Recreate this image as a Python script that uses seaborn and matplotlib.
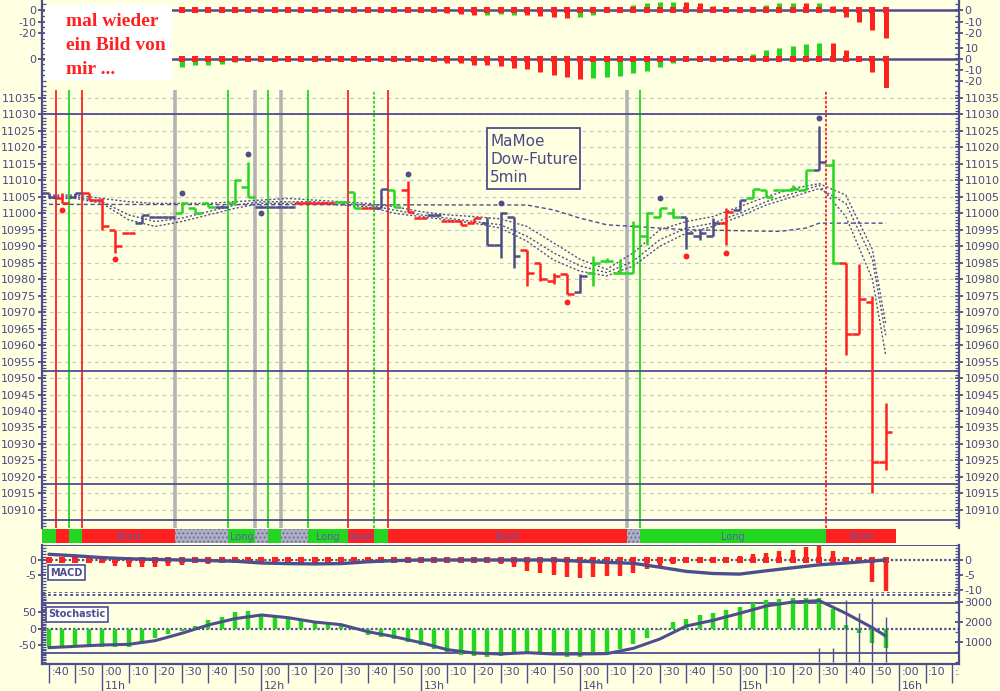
import numpy as np
import pandas as pd
import matplotlib
matplotlib.use("Agg")
import matplotlib.pyplot as plt
import seaborn as sns
from matplotlib.patches import Rectangle
from matplotlib.ticker import FixedLocator, MultipleLocator, StrMethodFormatter

# ======================
# DATA
# ======================

# 5 minute OHLC bars, first bar at 10:40
bar_first = "10:40"
bar_open = [11006, 11004.5, 11005, 11006, 11004, 10995, 10994, 10997, 10999, 10999,
            11000, 11001.5, 11003, 11002, 11003, 11008, 11002, 11002, 11002, 11003,
            11003, 11003, 11003.5, 11006.5, 11001.5, 11001.5, 11007, 11007, 10998.7, 10999.5,
            10997.6, 10997.5, 10997, 10997, 10990.5, 10999, 10989, 10985, 10979.5, 10981.5,
            10976, 10982, 10985.5, 10982, 10982, 10993, 10999, 11000, 10999, 10993,
            10993, 10997, 11001, 11004.5, 11007, 11007, 11007, 11007, 11013, 11014.5,
            10985, 10963.5, 10973, 10924.5]
bar_high = [11006, 11006, 11006, 11006, 11004.5, 10995, 10994, 10999.5, 10999, 10999,
            11003.5, 11001.5, 11003, 11002.5, 11010.5, 11015.5, 11002.5, 11002, 11002, 11003,
            11003, 11003, 11003.5, 11006.5, 11001.5, 11007.5, 11007, 11009.7, 10998.7, 10999.5,
            10997.6, 10997.5, 10998.5, 10999, 11000.5, 10999, 10989, 10985, 10982, 10981.5,
            10981.7, 10987, 10986.5, 10986, 10997.5, 11000.5, 11001.5, 11001.5, 10999, 10995,
            10998.5, 11001.5, 11004, 11007.5, 11007, 11007, 11008.5, 11013, 11026.5, 11016.5,
            10985, 10984.5, 10975, 10942.5]
bar_low = [11004.5, 11003, 11004.5, 11004, 10995, 10988, 10994, 10997, 10999, 10999,
           11000, 11000, 11002, 11001.5, 11003, 11005, 11001.5, 11002, 11002, 11003,
           11003, 11003, 11003.5, 11001.5, 11001.5, 11001.5, 11002, 11000.5, 10998.7, 10999.5,
           10997.6, 10996.5, 10997, 10990.5, 10986.4, 10983.3, 10978, 10979.5, 10978.5, 10975.5,
           10975.9, 10978, 10985.5, 10982, 10982, 10990.5, 10998.8, 10998.5, 10989.2, 10992,
           10993, 10990.5, 11001, 11004.5, 11005, 11007, 11007, 11007, 11013, 10984.5,
           10957, 10963.5, 10915, 10922]
bar_close = [11005, 11003, 11006, 11004, 10996, 10990, 10994, 10999.5, 10999, 10999,
             11003, 11000, 11002, 11002, 11010, 11005, 11002, 11002, 11002, 11003,
             11003, 11003, 11003.5, 11001.5, 11001.5, 11007.5, 11002, 11000.5, 10998.7, 10999.5,
             10997.6, 10996.5, 10998.5, 10990.5, 11000, 10987, 10982, 10980, 10981, 10975.5,
             10981, 10985, 10985.5, 10982, 10996, 11000, 11001.5, 10999, 10994, 10994,
             10997, 11000.5, 11004, 11007.5, 11005, 11007, 11007.5, 11013, 11015.5, 10985,
             10963.5, 10974, 10924.5, 10933.5]
bar_state = list("brbrrrrbbb" "gggbggbbbr" "rrggrbgrrb" "rrrbbbrrrr"
                 "bgggggggbb" "brbgggggbg" "rrrrx")

# pivot markers
pivot_low_t = ["10:45", "11:05", "13:55", "14:40", "14:55"]
pivot_low_v = [11001, 10986, 10973, 10987, 10988]
pivot_high_t = ["11:30", "11:55", "12:00", "12:55", "13:30", "14:30", "15:30"]
pivot_high_v = [11006, 11018, 11000, 11012, 11003, 11004.7, 11029]

# dotted averages, read every 10 minutes
ma_t = ["10:40", "10:50", "11:00", "11:10", "11:20", "11:30", "11:40", "11:50", "12:00",
        "12:10", "12:20", "12:30", "12:40", "12:50", "13:00", "13:10", "13:20", "13:30",
        "13:40", "13:50", "14:00", "14:10", "14:20", "14:30", "14:40", "14:50", "15:00",
        "15:10", "15:20", "15:30", "15:40", "15:50", "15:55"]
ma_upper = [11005.5, 11005.5, 11004.5, 11003.5, 11003, 11003, 11003, 11003.5, 11004,
            11004.5, 11004, 11003.5, 11003, 11002, 11000.5, 10999.5, 10999, 10998.3,
            10996, 10991, 10986, 10983, 10988, 10995, 10997.5, 10999, 11002,
            11005, 11007.5, 11009, 11005.5, 10989, 10966.5]
ma_mid = [11005, 11005, 11003.5, 10999.5, 10997.5, 10998.5, 11000.5, 11002.5, 11003.5,
          11003.5, 11003.5, 11003, 11002.5, 11001, 10999.5, 10998.5, 10997.5, 10996.5,
          10993, 10988, 10984, 10982, 10985.5, 10992, 10995.5, 10997, 11000,
          11003.5, 11006, 11008.5, 10999, 10980, 10957]
ma_lower = [11004.5, 11004.5, 11003, 10998, 10996, 10997.5, 10999.5, 11001.5, 11003,
            11003, 11003, 11002.5, 11002, 11000, 10999, 10998, 10997, 10995.5,
            10991.5, 10985.8, 10982.4, 10981, 10984, 10990, 10994, 10996, 10999,
            11002.5, 11005, 11007.5, 11003, 10986, 10963]
long_t = ["10:40", "13:40", "13:50", "14:00", "14:10", "14:20", "14:40", "15:15", "15:25", "15:30", "15:55"]
long_v = [11002.7, 11002.5, 11001, 10998.5, 10996.5, 10996, 10995, 10994.5, 10995.5, 10997, 10997]

levels = [11030, 10952, 10918, 10907]

# signal changes (long / short / neutral)
sig_change_t = ["10:37:30", "10:42:30", "10:47:30", "10:52:30", "11:27:30", "11:47:30", "11:57:30",
                "12:02:30", "12:07:30", "12:17:30", "12:32:30", "12:42:30", "12:47:30", "14:17:30",
                "14:22:30", "15:32:30"]
sig_state = ["L", "S", "L", "S", "N", "L", "N", "L", "N", "L", "S", "L", "S", "N", "L", "S"]
sig_label = ["", "", "", "Short", "", "Long", "", "", "", "Long", "Short", "", "Short", "", "Long", "Short"]
sig_end = "15:59"
sig_dotted = ["12:42:30", "15:32:30"]

# top histograms, 11:30 .. 15:55
hist_first = "11:30"
hist1 = [0.8, 1.5, 1.5, 1, 1.5, 2, 1.5, 1, 0.3, 0.3, -1, -1,
         0.3, 0.3, 0.3, 0.3, 0.3, 0.3, 0.3, -2, -3, -3.5, -4.3, -4.3,
         -3.5, -4, -4.3, -5, -5.8, -7, -5.8, -4.3, 0.3, 0.3, 4.3, 5.8,
         7, 7, 7, 5.8, 3.5, 1, 1, 2, 4, 6, 6, 6,
         6, 3.5, -5.8, -10, -17, -24.6]
hist1_col = list("gggrggrrrrrg" "rrrrrrrgrrrg" "ggrrrrggrrgg" "ggrrrrrgggg" "rgrrrrr")
hist2 = [-7, -5.5, -5.5, -4.5, -2.4, 0.3, 0.3, 1, 1, 0.3, 0.3, 0.3,
         0.3, 1, 1, 1, 1, 0.5, -0.5, -1, -3.3, -4, -5.5, -5.5,
         -6.4, -8, -9.4, -11.5, -14.5, -16.7, -18, -17.6, -16.7, -15.5, -13, -10.6,
         -7, -4, -1, 0.5, 0.5, 0.5, 0.5, 5, 8, 10, 11.5, 13.5,
         15, 15, 8, 1, -12, -27]
hist2_col = list("gggggrrggrrr" "rgrggrrrrrrr" "rrrrrrrggggg" "ggrrrrrgggg" "ggrrrrr")

# MACD histogram per bar and MACD line
macd_hist = [0.3, 0.3, 0.3, -0.4, -1.1, -1.9, -2.2, -2.2, -2.2, -1.9,
             -1.6, 0.3, -1.3, -0.8, 0.3, 0.3, 0.3, 0.3, 0.3, 0.3,
             0.3, 0.3, 0.3, 0.3, 0.3, 0.3, 0.3, -0.3, -0.3, -0.5,
             -0.7, -1, -1, -1, -1.2, -2.4, -3.5, -4.4, -4.9, -5.8,
             -6, -5.5, -5.2, -5.2, -4.4, -3, -2.2, -1.3, -1.1, -0.9,
             -0.8, 0.3, 1.5, 2, 2.5, 2.9, 3.3, 4.2, 4.8, 2.9,
             0.7, -1.1, -7.4, -10.4]
macd_line = [1.9, 1.4, 0.8, 0.4, 0.2, 0, -0.2, -0.4, -1.0,
             -1.2, -1.3, -1.2, -0.6, -0.2, 0, 0, 0, 0,
             0, 0, -0.4, -0.8, -1.1, -2.4, -3.8, -4.5, -4.7,
             -3.6, -2.6, -1.6, -1, -0.3, 0]

# Stochastic histogram per bar, its line, and volume
stoch_hist = [-54, -54, -54, -52, -54, -54, -56, -42, -28, -16,
              -6, 8, 26, 36, 50, 52, 42, 36, 30, 26,
              22, 16, 10, -4, -18, -25, -32, -40, -50, -60,
              -70, -80, -82, -86, -82, -74, -74, -74, -74, -84,
              -84, -74, -74, -62, -46, -28, -4, 20, 30, 40,
              46, 56, 66, 76, 86, 90, 92, 92, 92, 60,
              12, -14, -42, -58]
stoch_line = [-57, -53, -49, -47, -36, -14, 11, 30, 41,
              33, 20, 12, -9, -24, -42, -63, -73, -76,
              -72, -76, -76, -75, -59, -31, 8, 25, 46,
              68, 80, 84, 46, 3, -22]
vol_t = ["15:30", "15:35", "15:40", "15:45", "15:50", "15:55"]
vol_v = [700, 700, 3100, 2430, 3180, 2270]

# ======================
# STYLE
# ======================
BG = "#FFFFE1"
RED = "#FF2020"
GREEN = "#22D622"
NAVY = "#4E4E8C"
GRAY = "#B4B4B4"
TXT = "#4A4A88"
GRID = "#C8C8C8"
STATE_COL = {"b": NAVY, "r": RED, "g": GREEN, "x": "#A8A8A8"}
SIG_COL = {"L": GREEN, "S": RED, "N": "#B0B0C4"}

W, H = 1000, 691
X0, X1 = 42, 959
XLIM = (37.4, 382.6)   # minutes after 10:00 at the panel edges


def tmin(s):
    p = [float(v) for v in s.split(":")]
    m = (p[0] - 10) * 60 + p[1]
    if len(p) > 2:
        m += p[2] / 60
    return m


sns.set_theme(style="white")
plt.rcParams.update({"font.family": ["DejaVu Sans"], "axes.unicode_minus": False})

fig = plt.figure(figsize=(10, 6.91), dpi=100, facecolor=BG)


def panel(y0, y1):
    ax = fig.add_axes([X0 / W, 1 - y1 / H, (X1 - X0) / W, (y1 - y0) / H])
    ax.set_facecolor(BG)
    ax.set_xlim(*XLIM)
    for s in ax.spines.values():
        s.set_visible(False)
    ax.set_xticks(np.arange(40, 381, 10))
    ax.tick_params(axis="x", length=0, labelbottom=False)
    ax.grid(axis="x", color=GRID, ls=(0, (3, 3)), lw=0.9)
    ax.set_axisbelow(True)
    return ax


def yaxes(ax, lim, lticks, rticks, minor=None, rlim=None):
    ax.set_ylim(*lim)
    axr = ax.twinx()
    axr.set_xlim(*XLIM)
    axr.set_ylim(*(rlim or lim))
    ax.yaxis.set_major_locator(FixedLocator(lticks))
    axr.yaxis.set_major_locator(FixedLocator(rticks))
    if minor:
        ax.yaxis.set_minor_locator(MultipleLocator(minor))
        axr.yaxis.set_minor_locator(MultipleLocator(minor * (1 if rlim is None else 100)))
    for a in (ax, axr):
        for s in a.spines.values():
            s.set_visible(False)
        a.yaxis.set_major_formatter(StrMethodFormatter("{x:.0f}"))
        a.tick_params(axis="y", which="major", length=6, width=1.3, color=NAVY,
                      labelcolor=TXT, labelsize=8, pad=1, direction="inout")
        a.tick_params(axis="y", which="minor", length=3, width=0.9, color=NAVY, direction="in")
        a.grid(False)
    ax.spines["left"].set_visible(True)
    ax.spines["left"].set_color(NAVY)
    ax.spines["left"].set_linewidth(1.6)
    axr.spines["right"].set_visible(True)
    axr.spines["right"].set_color(NAVY)
    axr.spines["right"].set_linewidth(1.6)
    ax.yaxis.set_ticks_position("left")
    return axr


bar_t = tmin(bar_first) + 5 * np.arange(len(bar_open))
hist_t = tmin(hist_first) + 5 * np.arange(len(hist1))
ma_x = [tmin(s) for s in ma_t]

# ---------------- top histograms ----------------
for (y0, y1), vals, cols, lim, lt, rt in [
        ((0, 40), hist1, hist1_col, (-26, 8.7), [0, -10, -20], [0, -10, -20]),
        ((40, 88), hist2, hist2_col, (-26.4, 17.3), [0], [10, 0, -10, -20])]:
    ah = panel(y0, y1)
    yaxes(ah, lim, lt, rt, minor=5)
    ah.axhline(0, color=NAVY, lw=1.8, zorder=2)
    ah.vlines(hist_t, 0, vals, colors=[STATE_COL[c] for c in cols], lw=3.6, zorder=3)
    sns.scatterplot(x=hist_t, y=np.zeros(len(hist_t)), ax=ah, color=RED, s=16,
                    marker="s", linewidth=0, zorder=4, legend=False)

# ---------------- price panel ----------------
ax = panel(90, 528)
yaxes(ax, (10904.5, 11037.4), list(range(10910, 11036, 5)), list(range(10910, 11036, 5)), minor=1)
ax.grid(axis="y", color=GRID, ls=(0, (3, 3)), lw=0.9)
for lv in levels:
    ax.axhline(lv, color=NAVY, lw=1.3, zorder=2)

# signal change lines
for i, (s, st) in enumerate(zip(sig_change_t[1:], sig_state[1:])):
    t = tmin(s)
    if st == "N":
        ax.axvline(t, color=GRAY, lw=2.6, zorder=1)
    else:
        ax.axvline(t, color=SIG_COL[st], lw=1.3, zorder=1,
                   ls=(0, (1.5, 1)) if s in sig_dotted else "-")

# averages
for vals in (ma_upper, ma_mid, ma_lower):
    sns.lineplot(x=ma_x, y=vals, ax=ax, color=NAVY, lw=1.0, linestyle=(0, (1.5, 1.5)),
                 errorbar=None, zorder=3)
sns.lineplot(x=[tmin(s) for s in long_t], y=long_v, ax=ax, color=NAVY, lw=1.0,
             linestyle=(0, (3, 2)), errorbar=None, zorder=3)

# OHLC bars
cols = [STATE_COL[c] for c in bar_state]
ax.vlines(bar_t, bar_low, bar_high, colors=cols, lw=1.8, zorder=4)
ax.hlines(bar_open, bar_t - 2.5, bar_t, colors=cols, lw=1.8, zorder=4)
ax.hlines(bar_close, bar_t, bar_t + 2.5, colors=cols, lw=1.8, zorder=4)

sns.scatterplot(x=[tmin(s) for s in pivot_low_t], y=pivot_low_v, ax=ax, color=RED,
                s=18, linewidth=0, zorder=5, legend=False)
sns.scatterplot(x=[tmin(s) for s in pivot_high_t], y=pivot_high_v, ax=ax, color=NAVY,
                s=18, linewidth=0, zorder=5, legend=False)
ax.set_xlim(*XLIM)

# ---------------- signal bar ----------------
asg = panel(529, 543)
asg.grid(False)
asg.set_ylim(0, 1)
asg.set_yticks([])
bounds = [tmin(s) for s in sig_change_t] + [tmin(sig_end)]
for t0, t1, st, lab in zip(bounds[:-1], bounds[1:], sig_state, sig_label):
    if st == "N":
        asg.axvspan(t0, t1, facecolor=SIG_COL[st], edgecolor="#70709E", hatch="....", lw=0)
    else:
        asg.axvspan(t0, t1, color=SIG_COL[st], lw=0)
    if lab:
        asg.text((t0 + t1) / 2, 0.45, lab, ha="center", va="center", fontsize=7, color="#5A5AA6")
asg.set_xlim(*XLIM)

# ---------------- MACD ----------------
am = panel(545, 593)
yaxes(am, (-11, 5), [0, -5], [0, -5, -10], minor=1)
am.axhline(0, color=NAVY, lw=1.6, ls=(0, (1, 1)), zorder=2)
am.axhline(5, color=NAVY, lw=1.4)
am.axhline(-11, color=NAVY, lw=2, ls=(0, (1, 1)))
am.vlines(bar_t, 0, macd_hist, colors=RED, lw=3.2, zorder=3)
sns.scatterplot(x=bar_t, y=np.zeros(len(bar_t)), ax=am, color=RED, s=14, marker="s",
                linewidth=0, zorder=4, legend=False)
sns.lineplot(x=ma_x, y=macd_line, ax=am, color=NAVY, lw=2.4, errorbar=None, zorder=5)
am.set_xlim(*XLIM)
am.text(0.009, 0.42, "MACD", transform=am.transAxes, fontsize=7, fontweight="bold", color=NAVY,
        va="center", bbox=dict(boxstyle="square,pad=0.25", fc="white", ec=NAVY, lw=1.2), zorder=6)

# ---------------- Stochastic ----------------
ast = panel(594, 664)
axv = yaxes(ast, (-106, 104), [50, 0, -50], [1000, 2000, 3000], minor=5, rlim=(-100, 3400))
ast.axhline(0, color=NAVY, lw=1.6, ls=(0, (1, 1)), zorder=2)
ast.axhline(77, color=NAVY, lw=1.3)
ast.axhline(-73, color=NAVY, lw=1.3)
ast.axhline(104, color=NAVY, lw=2, ls=(0, (1, 1)))
ast.vlines(bar_t, 0, stoch_hist, colors=GREEN, lw=3.2, zorder=3)
sns.lineplot(x=ma_x, y=stoch_line, ax=ast, color=NAVY, lw=2.2, errorbar=None, zorder=5)
axv.vlines([tmin(s) for s in vol_t], 0, vol_v, colors=NAVY, lw=1.0)
ast.set_xlim(*XLIM)
ast.text(0.007, 0.71, "Stochastic", transform=ast.transAxes, fontsize=7, fontweight="bold",
         color=NAVY, va="center",
         bbox=dict(boxstyle="square,pad=0.25", fc="white", ec=NAVY, lw=1.2), zorder=6)

# ---------------- time axis ----------------
at = panel(664, 691)
at.grid(False)
at.set_ylim(0, 1)
at.set_yticks([])
at.spines["top"].set_visible(True)
at.spines["top"].set_color(NAVY)
at.spines["top"].set_linewidth(1.6)
for t in np.arange(40, 381, 10):
    full_hour = t % 60 == 0
    at.vlines(t, 0.0 if full_hour else 0.3, 1, colors=NAVY, lw=1.0)
    at.text(t + 1.0, 0.7, f":{int(t % 60):02d}", fontsize=8, color=TXT, va="center",
            ha="left", clip_on=True)
    if full_hour:
        at.text(t + 1.0, 0.17, f"{10 + int(t // 60)}h", fontsize=8, color=TXT,
                va="center", ha="left", clip_on=True)
at.set_xlim(*XLIM)

# ---------------- text boxes ----------------
fig.add_artist(Rectangle((45 / W, 1 - 80 / H), 127 / W, 75 / H, transform=fig.transFigure,
                         fc="white", ec="none", zorder=10))
for k, line in enumerate(["mal wieder", "ein Bild von", "mir ..."]):
    fig.text(66 / W, 1 - (22 + 24 * k) / H, line, fontsize=14, fontweight="bold", color=RED,
             family="Liberation Serif", va="center", ha="left", zorder=11)

fig.add_artist(Rectangle((487 / W, 1 - 189 / H), 93 / W, 61 / H, transform=fig.transFigure,
                         fc=BG, ec=NAVY, lw=1.3, zorder=10))
for k, line in enumerate(["MaMoe", "Dow-Future", "5min"]):
    fig.text(490 / W, 1 - (141 + 18.5 * k) / H, line, fontsize=11, color=TXT,
             va="center", ha="left", zorder=11)

fig.savefig("out.png", dpi=100, facecolor=BG)
